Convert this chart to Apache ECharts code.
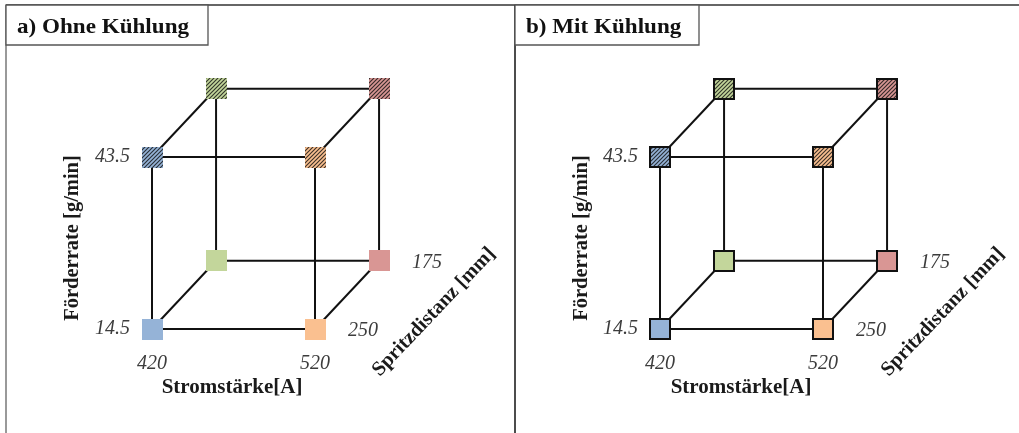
<!DOCTYPE html>
<html>
<head>
<meta charset="utf-8">
<script src="https://cdn.jsdelivr.net/npm/echarts@6/dist/echarts.min.js"></script>
<style>
  html, body { margin: 0; padding: 0; background: #fff; }
  #chart { width: 1019px; height: 433px; }
</style>
</head>
<body>
<div id="chart"></div>
<script>
// Versuchsplan: 2^3 Würfel
const panelTitles = ['a) Ohne Kühlung', 'b) Mit Kühlung'];
const current = [420, 520];     // Stromstärke [A]
const rate = [14.5, 43.5];      // Förderrate [g/min]
const distance = [250, 175];    // Spritzdistanz [mm]
// fill colour per corner, [distance index][current index]
const cornerColors = [
  ['#95B3D7', '#FAC090'],
  ['#C3D69B', '#D99694']
];
const axisNames = ['Stromstärke[A]', 'Förderrate [g/min]', 'Spritzdistanz [mm]'];

// oblique shift of the far face (distance[1]) in axis units
const DEPTH_SHIFT = [39.3, 11.5];

const SERIF = '"Liberation Serif", "Times New Roman", serif';
const LABEL_COLOR = '#3c3c3c';

function project(c, r, d) {
  const t = (distance[0] - d) / (distance[0] - distance[1]);
  return [c + t * DEPTH_SHIFT[0], r + t * DEPTH_SHIFT[1]];
}

// diagonal hatching used for the high feed-rate corners
function hatch(color) {
  const s = 4;
  const cv = document.createElement('canvas');
  cv.width = s; cv.height = s;
  const g = cv.getContext('2d');
  g.fillStyle = color;
  g.fillRect(0, 0, s, s);
  g.strokeStyle = 'rgba(15,15,15,0.8)';
  g.lineWidth = 1.15;
  g.beginPath();
  g.moveTo(-1, s + 1); g.lineTo(s + 1, -1);
  g.moveTo(-1, 1); g.lineTo(1, -1);
  g.moveTo(s - 1, s + 1); g.lineTo(s + 1, s - 1);
  g.stroke();
  return { image: cv, repeat: 'repeat' };
}

// all corners of the cube
const corners = [];
distance.forEach((d, di) => current.forEach((c, ci) => rate.forEach((r, ri) => {
  corners.push({ c, r, d, ci, ri, di });
})));

// edges join corners that differ in exactly one factor
const edges = [];
for (let i = 0; i < corners.length; i++) {
  for (let j = i + 1; j < corners.length; j++) {
    const a = corners[i], b = corners[j];
    const diff = (a.ci !== b.ci) + (a.ri !== b.ri) + (a.di !== b.di);
    if (diff === 1) edges.push([...project(a.c, a.r, a.d), ...project(b.c, b.r, b.d)]);
  }
}

const panels = [
  { left: 152, outlined: false, size: 21, frameX: 6, titleW: 202 },
  { left: 660, outlined: true, size: 22, frameX: 515, titleW: 184 }
];

const grids = [], xAxes = [], yAxes = [], series = [], graphics = [];

panels.forEach((p, i) => {
  grids.push({ left: p.left, top: 157, width: 163, height: 172 });
  const labelStyle = {
    fontFamily: SERIF, fontStyle: 'italic', fontSize: 20, color: LABEL_COLOR
  };
  xAxes.push({
    type: 'value', gridIndex: i, min: current[0], max: current[1],
    axisLine: { show: false }, axisTick: { show: false }, splitLine: { show: false },
    axisLabel: Object.assign({ customValues: current, margin: 25 }, labelStyle)
  });
  yAxes.push({
    type: 'value', gridIndex: i, min: rate[0], max: rate[1],
    axisLine: { show: false }, axisTick: { show: false }, splitLine: { show: false },
    axisLabel: Object.assign({ customValues: rate, margin: 22, padding: [5, 0, 0, 0] }, labelStyle)
  });

  // cube edges
  series.push({
    type: 'custom', xAxisIndex: i, yAxisIndex: i, z: 1, silent: true,
    data: edges,
    encode: { x: [0, 2], y: [1, 3] },
    renderItem: (params, api) => {
      const a = api.coord([api.value(0), api.value(1)]);
      const b = api.coord([api.value(2), api.value(3)]);
      return {
        type: 'line',
        shape: { x1: a[0], y1: a[1], x2: b[0], y2: b[1] },
        style: { stroke: '#111', lineWidth: 2 }
      };
    }
  });

  // corner squares, with the distance value next to the 520 A / 14.5 g/min corners
  series.push({
    type: 'custom', xAxisIndex: i, yAxisIndex: i, z: 3, silent: true,
    data: corners.map(k => [...project(k.c, k.r, k.d), k.di, k.ci, k.ri]),
    encode: { x: 0, y: 1 },
    renderItem: (params, api) => {
      const pt = api.coord([api.value(0), api.value(1)]);
      const di = api.value(2), ci = api.value(3), ri = api.value(4);
      const base = cornerColors[di][ci];
      const bw = p.outlined ? 2 : 0;
      const s = p.size - bw;
      const children = [{
        type: 'rect',
        shape: { x: Math.round(pt[0] - s / 2), y: Math.round(pt[1] - s / 2), width: s, height: s },
        style: {
          fill: ri === 1 ? hatch(base) : base,
          stroke: p.outlined ? '#111' : null,
          lineWidth: bw
        }
      }];
      if (ci === 1 && ri === 0) {
        children.push({
          type: 'text', x: pt[0] + 33, y: pt[1] + 2,
          style: {
            text: String(distance[di]), fill: LABEL_COLOR,
            font: 'italic 20px ' + SERIF, align: 'left', verticalAlign: 'middle'
          }
        });
      }
      return { type: 'group', children };
    }
  });

  const dx = p.frameX - 6;
  // title box
  graphics.push({
    type: 'rect', shape: { x: p.frameX, y: 5, width: p.titleW, height: 40 },
    style: { fill: '#fff', stroke: '#555', lineWidth: 1.3 }, z: 10
  });
  graphics.push({
    type: 'text', x: p.frameX + 11, y: 27, z: 11, scaleX: 1.05,
    style: {
      text: panelTitles[i], font: 'bold 22px ' + SERIF, fill: '#111',
      verticalAlign: 'middle', align: 'left'
    }
  });
  // axis names
  graphics.push({
    type: 'text', x: 232 + dx, y: 388, z: 11,
    style: { text: axisNames[0], font: 'bold 21px ' + SERIF, fill: '#1a1a1a', align: 'center', verticalAlign: 'middle' }
  });
  graphics.push({
    type: 'text', x: 73 + dx, y: 238, rotation: Math.PI / 2, z: 11,
    style: { text: axisNames[1], font: 'bold 20.5px ' + SERIF, fill: '#1a1a1a', align: 'center', verticalAlign: 'middle' }
  });
  graphics.push({
    type: 'text', x: 434 + dx, y: 312, rotation: 46.5 * Math.PI / 180, z: 11,
    style: { text: axisNames[2], font: 'bold 20.5px ' + SERIF, fill: '#1a1a1a', align: 'center', verticalAlign: 'middle' }
  });
});

// outer frame and panel divider
graphics.push({ type: 'line', shape: { x1: 6, y1: 5, x2: 1019, y2: 5 }, style: { stroke: '#333', lineWidth: 1.5 }, z: 9 });
graphics.push({ type: 'line', shape: { x1: 6, y1: 5, x2: 6, y2: 433 }, style: { stroke: '#777', lineWidth: 1.5 }, z: 9 });
graphics.push({ type: 'line', shape: { x1: 515, y1: 5, x2: 515, y2: 433 }, style: { stroke: '#111', lineWidth: 1.5 }, z: 9 });

const chart = echarts.init(document.getElementById('chart'), null, { renderer: 'canvas' });
chart.setOption({
  animation: false,
  backgroundColor: '#fff',
  grid: grids,
  xAxis: xAxes,
  yAxis: yAxes,
  series: series,
  graphic: graphics
});
</script>
</body>
</html>
